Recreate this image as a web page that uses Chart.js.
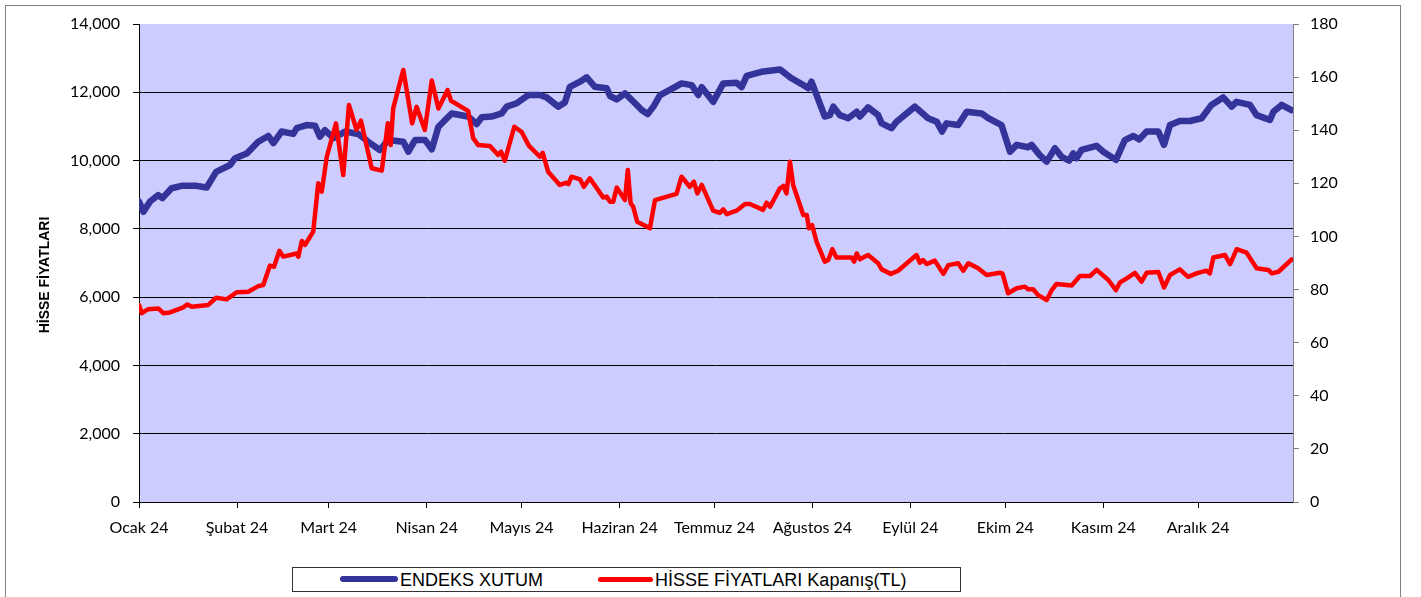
<!DOCTYPE html>
<html>
<head>
<meta charset="utf-8">
<script src="https://cdn.jsdelivr.net/npm/chart.js@4.4.1/dist/chart.umd.min.js"></script>
<style>
  body { margin: 0; background: #fff; }
  #frame { position: absolute; left: 5px; top: 5px; width: 1394px; height: 620px; border: 1px solid #808080; }
  #wrap { position: absolute; left: 0; top: 0; width: 1421px; height: 597px; }
  .legend-box { position: absolute; left: 292px; top: 567px; width: 667px; height: 23px; border: 1px solid #333; background: #fff; }
  .swatch { position: absolute; height: 6px; border-radius: 3px; }
  .ltext { position: absolute; font-family: "Liberation Sans", Arial, sans-serif; font-size: 18px; line-height: 20px; color: #000; white-space: nowrap; }
</style>
</head>
<body>
<div id="frame"></div>
<div id="wrap"><canvas id="chart" width="1421" height="597"></canvas></div>
<div class="legend-box"></div>
<div class="swatch" style="left:340px; top:576px; width:58px; background:#333399;"></div>
<span class="ltext" style="left:400px; top:570px;">ENDEKS XUTUM</span>
<div class="swatch" style="left:598px; top:577px; width:55px; height:5px; background:#ff0000;"></div>
<span class="ltext" style="left:655px; top:570px;">HİSSE FİYATLARI Kapanış(TL)</span>
<script>
// month ticks (day of year 2024)
const monthStarts = [0, 31, 60, 91, 121, 152, 182, 213, 244, 274, 305, 335];
const monthLabels = ['Ocak 24', 'Şubat 24', 'Mart 24', 'Nisan 24', 'Mayıs 24', 'Haziran 24',
  'Temmuz 24', 'Ağustos 24', 'Eylül 24', 'Ekim 24', 'Kasım 24', 'Aralık 24'];
const leftTitle = 'HİSSE FİYATLARI';

// ENDEKS XUTUM (left axis)
const indexDays = [0, 1.4, 3.5, 6.1, 7.4, 10.3, 13.5, 18.2, 21.4, 24.4, 28.8, 30.4, 34.1, 37.7, 40.9, 42.5,
  45.1, 48.8, 49.9, 53.0, 55.7, 57.2, 58.8, 61.5, 65.2, 69.4, 72.5, 76.2, 78.8, 83.6, 85.2, 87.3, 90.5,
  92.6, 94.7, 98.9, 104.1, 106.8, 108.4, 111.5, 114.7, 116.3, 119.5, 123.1, 126.8, 128.9, 132.6, 134.7,
  136.3, 139.5, 141.6, 144.2, 147.9, 149.0, 151.1, 153.7, 156.9, 159.0, 160.9, 162.7, 164.8, 167.9,
  171.6, 174.8, 176.9, 178.0, 181.6, 184.8, 189.0, 190.6, 192.2, 196.9, 202.7, 206.4, 209.6, 211.7,
  212.7, 216.9, 218.5, 219.6, 221.7, 224.3, 227.0, 228.0, 230.6, 233.8, 234.9, 238.0, 239.6, 245.4,
  249.6, 252.3, 254.0, 255.4, 259.1, 261.8, 266.5, 268.6, 272.8, 275.5, 277.6, 281.2, 282.3, 284.9,
  287.1, 289.7, 291.8, 294.2, 295.5, 296.5, 298.1, 302.9, 305.0, 309.0, 311.8, 314.5, 316.4, 318.7,
  322.4, 324.2, 326.1, 329.2, 332.4, 336.1, 339.2, 342.9, 345.6, 347.1, 351.4, 353.5, 357.7, 358.8,
  361.4, 364.5];
const indexValues = [8800, 8500, 8800, 8990, 8900, 9190, 9260, 9260, 9210, 9670, 9870, 10070, 10210, 10550,
  10720, 10510, 10850, 10780, 10950, 11040, 11020, 10700, 10890, 10660, 10850, 10780, 10550, 10310,
  10600, 10550, 10260, 10600, 10600, 10330, 10990, 11380, 11290, 11070, 11270, 11290, 11380, 11580,
  11680, 11920, 11920, 11850, 11580, 11700, 12160, 12310, 12440, 12160, 12120, 11890, 11790, 11970,
  11680, 11480, 11360, 11580, 11920, 12070, 12260, 12210, 11920, 12150, 11720, 12260, 12280, 12150,
  12480, 12600, 12670, 12410, 12240, 12120, 12310, 11290, 11330, 11580, 11330, 11240, 11430, 11290,
  11560, 11330, 11090, 10950, 11140, 11580, 11240, 11140, 10850, 11090, 11040, 11430, 11380, 11240,
  11040, 10260, 10460, 10390, 10460, 10160, 9970, 10360, 10110, 10000, 10210, 10070, 10310, 10430,
  10260, 10020, 10600, 10720, 10620, 10850, 10850, 10460, 11040, 11160, 11160, 11240, 11630, 11850,
  11580, 11720, 11630, 11330, 11190, 11430, 11630, 11480];

// HİSSE FİYATLARI Kapanış(TL) (right axis)
const priceDays = [0, 0.9, 2.9, 6.1, 7.7, 9.8, 14.0, 15.3, 16.7, 21.9, 24.4, 27.7, 30.9, 34.6, 37.7, 39.3,
  41.4, 42.7, 44.4, 45.6, 49.9, 50.4, 51.5, 52.5, 55.1, 56.7, 57.8, 59.4, 62.3, 64.6, 66.4, 68.8, 70.2,
  73.6, 76.8, 78.7, 79.6, 80.4, 83.6, 86.4, 87.8, 90.4, 92.6, 94.7, 97.6, 98.7, 104.1, 105.7, 107.3,
  111.0, 113.6, 114.5, 115.7, 118.7, 121.0, 123.3, 126.8, 127.7, 129.4, 133.1, 135.0, 135.8, 136.8,
  139.5, 140.7, 142.6, 146.8, 147.9, 149.0, 150.0, 151.1, 153.7, 154.6, 155.5, 156.3, 157.6, 161.6,
  163.2, 170.0, 171.6, 174.2, 175.5, 176.6, 178.0, 181.6, 183.7, 184.8, 185.9, 189.0, 191.7, 193.2,
  197.4, 198.5, 199.6, 202.7, 203.8, 204.8, 205.9, 206.9, 210.1, 211.2, 211.9, 212.9, 214.3, 216.9,
  218.0, 219.3, 220.6, 225.4, 226.2, 227.0, 228.0, 230.6, 233.8, 234.9, 237.8, 240.1, 245.9, 247.0,
  248.0, 249.1, 251.7, 254.4, 256.0, 259.1, 260.7, 262.3, 265.4, 268.1, 272.3, 273.1, 274.9, 277.6,
  280.2, 281.2, 282.8, 284.4, 287.1, 288.7, 290.2, 295.0, 297.6, 300.8, 302.9, 306.6, 309.0, 310.2,
  312.4, 315.0, 317.1, 318.7, 322.4, 324.2, 326.1, 329.2, 331.8, 334.5, 337.6, 338.7, 339.8, 343.5,
  345.1, 347.2, 350.3, 353.5, 357.2, 358.3, 360.4, 364.6];
const priceValues = [74.2, 71.1, 72.6, 72.9, 71.1, 71.4, 73.3, 74.4, 73.5, 74.2, 76.9, 76.3, 79.0, 79.2,
  81.3, 81.7, 89.0, 88.6, 94.6, 92.4, 93.6, 92.4, 98.3, 96.8, 101.8, 120.0, 116.9, 130.0, 142.6, 123.1,
  149.5, 140.1, 143.6, 125.7, 124.8, 142.6, 134.4, 148.2, 162.7, 142.6, 148.8, 140.1, 158.7, 148.2,
  155.1, 151.1, 147.3, 137.0, 134.4, 134.1, 130.7, 131.9, 128.5, 141.3, 139.4, 134.2, 130.0, 131.5,
  124.4, 119.4, 120.2, 119.7, 122.5, 121.5, 118.7, 121.9, 114.7, 115.0, 113.1, 113.1, 118.4, 113.7,
  125.0, 112.5, 111.2, 105.5, 103.1, 113.7, 116.0, 122.5, 118.7, 120.6, 116.2, 119.4, 109.7, 108.9,
  110.2, 108.4, 109.7, 112.2, 112.2, 110.0, 112.7, 111.2, 118.1, 119.0, 116.2, 128.1, 119.4, 108.1,
  108.1, 103.1, 104.3, 98.0, 90.5, 91.1, 95.2, 92.1, 92.1, 90.5, 93.6, 91.4, 93.0, 89.9, 87.6, 85.9,
  87.1, 93.0, 90.1, 91.1, 89.6, 90.9, 85.9, 89.2, 89.9, 87.1, 89.9, 88.0, 85.5, 86.3, 86.1, 78.6,
  80.5, 81.1, 80.1, 80.1, 77.9, 76.1, 79.8, 82.1, 81.5, 85.1, 85.1, 87.4, 83.6, 79.8, 82.6, 84.2,
  86.3, 83.0, 86.3, 86.6, 80.8, 85.5, 87.6, 84.8, 86.1, 87.1, 86.1, 92.1, 93.0, 89.6, 95.2, 93.9,
  88.0, 87.4, 86.1, 86.7, 91.4];

const plotBg = {
  id: 'plotBg',
  beforeDraw(chart) {
    const { ctx, chartArea: a } = chart;
    ctx.save();
    ctx.fillStyle = '#ccccff';
    ctx.fillRect(a.left, a.top, a.right - a.left, a.bottom - a.top);
    ctx.restore();
  }
};

// left axis title, placed like the original (a bit below plot centre)
const axisTitle = {
  id: 'axisTitle',
  afterDraw(chart) {
    const { ctx, chartArea: a } = chart;
    ctx.save();
    ctx.translate(45, (a.top + a.bottom) / 2 + 12);
    ctx.rotate(-Math.PI / 2);
    ctx.font = 'bold 14px "Liberation Sans", Arial, sans-serif';
    ctx.fillStyle = '#000';
    ctx.textAlign = 'center';
    ctx.textBaseline = 'middle';
    ctx.fillText(leftTitle, 0, 0);
    ctx.restore();
  }
};

const tickFont = { family: 'Lato, "Open Sans", sans-serif', size: 16 };

new Chart(document.getElementById('chart'), {
  type: 'line',
  data: {
    datasets: [
      {
        label: 'ENDEKS XUTUM',
        data: indexDays.map((d, i) => ({ x: d, y: indexValues[i] })),
        yAxisID: 'y',
        borderColor: '#333399',
        borderWidth: 6.5,
        pointRadius: 0,
        tension: 0,
        borderJoinStyle: 'round',
        borderCapStyle: 'round',
        order: 2
      },
      {
        label: 'HİSSE FİYATLARI Kapanış(TL)',
        data: priceDays.map((d, i) => ({ x: d, y: priceValues[i] })),
        yAxisID: 'y1',
        borderColor: '#ff0000',
        borderWidth: 4.5,
        pointRadius: 0,
        tension: 0,
        borderJoinStyle: 'round',
        borderCapStyle: 'round',
        order: 1
      }
    ]
  },
  options: {
    responsive: false,
    animation: false,
    layout: { padding: { top: 24, left: 0, right: 0, bottom: 0 } },
    plugins: { legend: { display: false }, tooltip: { enabled: false } },
    scales: {
      x: {
        type: 'linear',
        min: 0,
        max: 365,
        afterBuildTicks: s => { s.ticks = monthStarts.map(v => ({ value: v })); },
        afterFit: s => { s.height = 95; },
        ticks: {
          autoSkip: false,
          maxRotation: 0,
          padding: 10,
          color: '#000',
          font: tickFont,
          callback: (v, i) => monthLabels[i]
        },
        grid: { drawOnChartArea: false, color: '#000', tickLength: 6 },
        border: { color: '#000', width: 1 }
      },
      y: {
        position: 'left',
        min: 0,
        max: 14000,
        afterFit: s => { s.width = 139; },
        ticks: {
          stepSize: 2000,
          padding: 13,
          color: '#000',
          font: tickFont,
          callback: v => v.toLocaleString('en-US')
        },
        grid: {
          color: c => (c.tick && c.tick.value === 14000) ? 'rgba(0,0,0,0)' : '#000',
          tickColor: '#000',
          tickLength: 6
        },
        border: { color: '#000', width: 1 }
      },
      y1: {
        position: 'right',
        min: 0,
        max: 180,
        afterFit: s => { s.width = 128; },
        ticks: { stepSize: 20, padding: 11, color: '#000', font: tickFont },
        grid: { drawOnChartArea: false, color: '#808080', tickLength: 6 },
        border: { color: '#808080', width: 1 }
      }
    }
  },
  plugins: [plotBg, axisTitle]
});
</script>
</body>
</html>
